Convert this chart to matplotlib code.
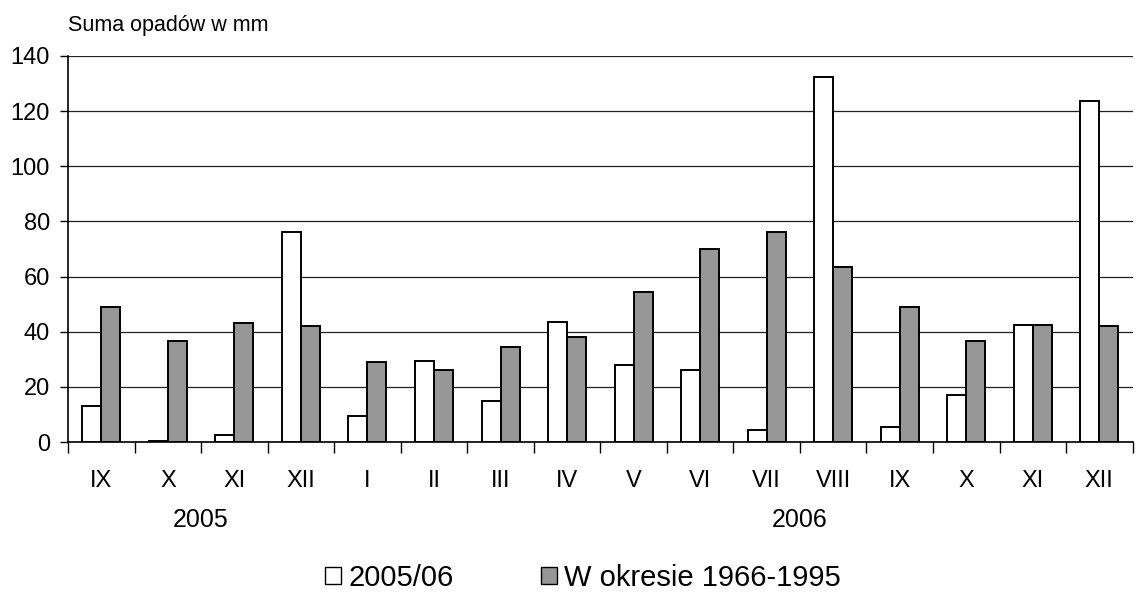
import numpy as np
import matplotlib
matplotlib.use('Agg')
from matplotlib import pyplot as plt
from matplotlib.patches import Patch

plt.rcParams['font.family'] = ['Liberation Sans', 'DejaVu Sans']

# month labels, Sep 2005 .. Dec 2006
months = ['IX', 'X', 'XI', 'XII', 'I', 'II', 'III', 'IV', 'V', 'VI',
          'VII', 'VIII', 'IX', 'X', 'XI', 'XII']
rain_2005_06 = [13, 0.5, 2.5, 76, 9.5, 29.5, 15, 43.5, 28, 26,
                4.5, 132.5, 5.5, 17, 42.5, 123.5]
rain_1966_95 = [49, 36.5, 43, 42, 29, 26, 34.5, 38, 54.5, 70,
                76, 63.5, 49, 36.5, 42.5, 42]
series_names = ['2005/06', 'W okresie 1966-1995']
years = ['2005', '2006']
yticks = [0, 20, 40, 60, 80, 100, 120, 140]

fig = plt.figure(figsize=(11.36, 6), dpi=100)
ax = fig.add_axes([0.0599, 0.2633, 0.9371, 0.6434])

x = np.arange(len(months))
w = 0.2857
ax.bar(x - w / 2, rain_2005_06, width=w, color='white', edgecolor='black', lw=1.4, zorder=3)
ax.bar(x + w / 2, rain_1966_95, width=w, color='#969696', edgecolor='black', lw=1.4, zorder=3)

ax.set_xlim(-0.5, len(months) - 0.5)
ax.set_ylim(0, 140)
ax.set_yticks(yticks)
ax.tick_params(axis='y', labelsize=17, length=6, width=1, pad=7)
ax.grid(axis='y', color='#222222', lw=0.9, zorder=0)

# month labels centred, ticks between groups
ax.set_xticks(x)
ax.set_xticklabels(months, fontsize=17)
ax.tick_params(axis='x', length=0, pad=20)
ax.set_xticks(np.arange(len(months) + 1) - 0.5, minor=True)
ax.tick_params(axis='x', which='minor', length=8, width=1, direction='out')

for s in ['top', 'right']:
    ax.spines[s].set_visible(False)
ax.spines['left'].set_linewidth(1.2)
ax.spines['bottom'].set_linewidth(1.2)

fig.text(0.0599, 0.958, 'Suma opadów w mm', fontsize=15.5, ha='left', va='center')
ax.text(1.5, -0.203, years[0], transform=ax.get_xaxis_transform(), ha='center', va='center', fontsize=18)
ax.text(10.5, -0.203, years[1], transform=ax.get_xaxis_transform(), ha='center', va='center', fontsize=18)

handles = [Patch(facecolor='white', edgecolor='black', lw=1),
           Patch(facecolor='#969696', edgecolor='black', lw=1)]
fig.legend(handles, series_names, loc='center', bbox_to_anchor=(0.513, 0.037), ncol=2,
           frameon=False, fontsize=21, handlelength=0.55, handleheight=0.55,
           handletextpad=0.25, columnspacing=3.0)

fig.savefig('out.png', dpi=100)
